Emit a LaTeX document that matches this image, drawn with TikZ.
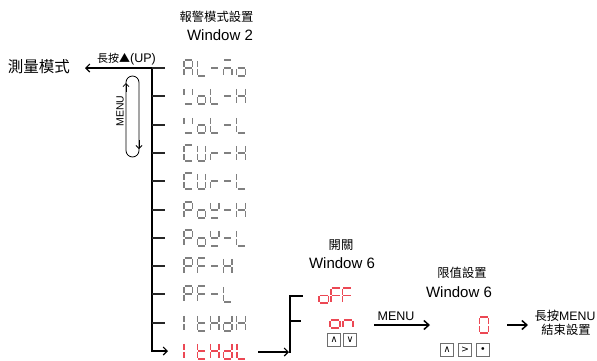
\documentclass[tikz,border=0pt]{standalone}
\usepackage{fontspec}
\setmainfont{Liberation Sans}
\newfontfamily\cjk{Noto Sans CJK TC}
\newfontfamily\sym{DejaVu Sans}
\usetikzlibrary{arrows.meta}
\definecolor{segr}{RGB}{236,72,84}
\definecolor{segg}{RGB}{128,128,128}
\definecolor{btng}{RGB}{110,110,110}
\newcommand\segw{8.5}
\newcommand\segh{16}
\newcommand\sgap{0.8}
\def\segPa{(\sgap,0)--({\segw-\sgap},0)}
\def\segPb{(\segw,\sgap)--(\segw,{\segh/2-\sgap})}
\def\segPc{(\segw,{\segh/2+\sgap})--(\segw,{\segh-\sgap})}
\def\segPd{(\sgap,\segh)--({\segw-\sgap},\segh)}
\def\segPe{(0,{\segh/2+\sgap})--(0,{\segh-\sgap})}
\def\segPf{(0,\sgap)--(0,{\segh/2-\sgap})}
\def\segPg{(\sgap,{\segh/2})--({\segw-\sgap},{\segh/2})}
% #1 x, #2 ytop, #3 pitch, #4 width, #5 height, #6 style, #7 list of segment sets
\newcommand\disp[7]{%
  \begin{scope}[shift={(#1,#2)}]
    \def\segw{#4}\def\segh{#5}%
    \foreach \chs [count=\ci from 0] in {#7}{%
      \begin{scope}[shift={(\ci*#3,0)}]
        \foreach \s in \chs {\draw[#6] \csname segP\s\endcsname;}
      \end{scope}
    }
  \end{scope}}
\tikzset{
  seggray/.style={line width=1.3pt, draw=segg},
  segred/.style={line width=1.4pt, draw=segr},
  cjkt/.style={font=\cjk\fontsize{12.3}{14}\selectfont, inner sep=0},
  win/.style={font=\fontsize{15}{17}\selectfont, inner sep=0},
  btn/.style={draw=btng, line width=0.7pt, minimum size=13pt, inner sep=0, font=\sym\fontsize{9.5}{9.5}\selectfont},
  mainline/.style={line width=2pt},
  tickline/.style={line width=1.4pt, draw=black!85},
  barbtip/.style={-{Straight Barb[length=4pt,width=8pt,line width=1.1pt]}},
  bigtip/.style={-{Straight Barb[length=5pt,width=9pt,line width=1.5pt]}},
}
\begin{document}
\begin{tikzpicture}[x=1pt,y=-1pt]
\useasboundingbox (0,0) rectangle (597,360);
% headers
\node[cjkt] (h1) at (216.5,17) {報警模式設置};
\node[win] (w2) at (220,35) {Window 2};
\node[font=\cjk\fontsize{15.5}{17}\selectfont, inner sep=0] (meas) at (39,67) {測量模式};
\node[inner sep=0] (lp) at (126.5,59.5) {{\cjk\fontsize{11}{12}\selectfont 長按▲}{\fontsize{12.5}{13}\selectfont(UP)}};
\node[font=\fontsize{10.5}{12}\selectfont, inner sep=0, rotate=90] (menuv) at (120,111) {MENU};
% main spine
\foreach \i/\yy in {0/68,1/96,2/125,3/153,4/181,5/210,6/238,7/266,8/294,9/323,10/351} {\coordinate (r\i) at (152,\yy);}
\coordinate (lt) at (85,68);
\coordinate (dst) at (168,351);
\draw[mainline, barbtip] (r0) -- (lt);
\draw[mainline, barbtip] (r0) -- (r10) -- (dst);
\foreach \i in {0,...,9} {\draw[tickline] (r\i) -- ++(13,0);}
% MENU loop
\draw[line width=0.8pt, rounded corners=6.5pt] (126,76) rectangle (139,157);
\coordinate (la) at (126,92); \coordinate (lb) at (126,83);
\coordinate (ra) at (139,140); \coordinate (rb) at (139,149);
\draw[line width=0.8pt, -{Straight Barb[length=3pt,width=6pt,line width=0.8pt]}] (la) -- (lb);
\draw[line width=0.8pt, -{Straight Barb[length=3pt,width=6pt,line width=0.8pt]}] (ra) -- (rb);
% displays
\disp{184}{60}{13.2}{8.5}{16}{seggray}{{a,b,c,e,f,g},{d,e,f},{g},{a,c,e,g},{c,d,e,g}}
\disp{184}{88}{13.2}{8.5}{16}{seggray}{{b,d,f},{c,d,e,g},{d,e,f},{g},{b,c,e,f,g}}
\disp{184}{117}{13.2}{8.5}{16}{seggray}{{b,d,f},{c,d,e,g},{d,e,f},{g},{d,e,f}}
\disp{184}{145}{13.2}{8.5}{16}{seggray}{{a,d,e,f},{b,c,d,e,f},{e,g},{g},{b,c,e,f,g}}
\disp{184}{173}{13.2}{8.5}{16}{seggray}{{a,d,e,f},{b,c,d,e,f},{e,g},{g},{d,e,f}}
\disp{184}{202}{13.2}{8.5}{16}{seggray}{{a,b,e,f,g},{c,d,e,g},{b,d,f,g},{g},{b,c,e,f,g}}
\disp{184}{230}{13.2}{8.5}{16}{seggray}{{a,b,e,f,g},{c,d,e,g},{b,d,f,g},{g},{d,e,f}}
\disp{184}{258}{13.2}{8.5}{16}{seggray}{{a,b,e,f,g},{a,e,f,g},{g},{b,c,e,f,g}}
\disp{184}{286}{13.2}{8.5}{16}{seggray}{{a,b,e,f,g},{a,e,f,g},{g},{d,e,f}}
\disp{184}{315}{13.2}{8.5}{16}{seggray}{{e,f},{d,e,f,g},{b,c,e,f,g},{b,c,d,e,g},{b,c,e,f,g}}
\disp{184}{343}{13.2}{8.5}{16}{segred}{{e,f},{d,e,f,g},{b,c,e,f,g},{b,c,d,e,g},{d,e,f}}
% bracket
\coordinate (ia) at (258,352);
\coordinate (bb) at (290,353);
\coordinate (bt) at (290,296);
\coordinate (bm) at (290,321);
\draw[mainline, barbtip] (ia) -- (289,352);
\draw[mainline] (bb) -- (bt) -- ++(13,0);
\draw[mainline] (bm) -- ++(11,0);
% window 6 switch
\node[cjkt] (sw) at (341,245) {開關};
\node[win] (w6a) at (342,263) {Window 6};
\disp{319}{288}{11.8}{9.5}{15}{segred}{{c,d,e,g},{a,e,f,g},{a,e,f,g}}
\disp{330}{312}{13}{10}{16}{segred}{{c,d,e,g},{c,e,g}}
\node[btn] (b1) at (334,340) {∧};
\node[btn] (b2) at (350,340) {∨};
% menu arrow
\node[font=\fontsize{12.5}{14}\selectfont, inner sep=0] (ml) at (396,316) {MENU};
\coordinate (ma) at (374,325);
\coordinate (mb) at (430,325);
\draw[line width=1.5pt, bigtip] (ma) -- (mb);
% limit window
\node[cjkt] (lim) at (462,273) {限值設置};
\node[win] (w6b) at (459,292) {Window 6};
\disp{479.5}{317}{10}{9}{16}{segred}{{a,b,c,d,e,f}}
\node[btn] (b3) at (447,350) {∧};
\node[btn] (b4) at (465,350) {>};
\node[btn] (b5) at (483,350) {•};
% end
\coordinate (ea) at (507,325);
\coordinate (eb) at (528,325);
\draw[line width=1.5pt, bigtip] (ea) -- (eb);
\node[inner sep=0] (end1) at (565,316) {{\cjk\fontsize{12.3}{14}\selectfont 長按}{\fontsize{12.3}{14}\selectfont MENU}};
\node[cjkt] (end2) at (566,330) {結束設置};
\end{tikzpicture}
\end{document}
